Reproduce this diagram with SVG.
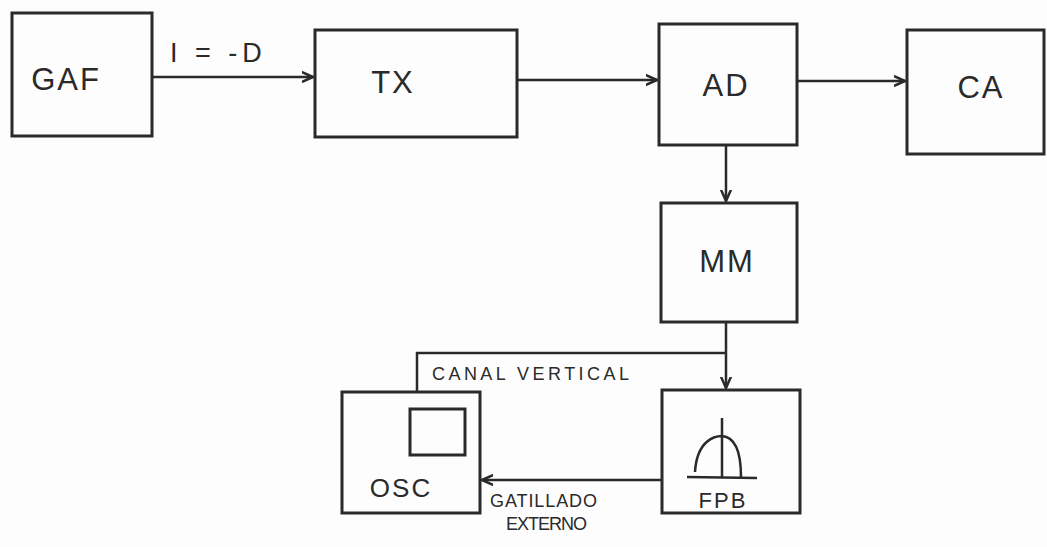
<svg xmlns="http://www.w3.org/2000/svg" width="1047" height="547" viewBox="0 0 1047 547">
<defs>
<style>
.box{fill:none;stroke:#2a2a2a;stroke-width:3}
.ln{fill:none;stroke:#2a2a2a;stroke-width:2.5}
.t{font-family:"Liberation Sans",Arial,sans-serif;fill:#2a2a2a}
.big{font-size:31px;letter-spacing:2px}
.sm{font-size:18px;letter-spacing:3px}
</style>
<marker id="ah" viewBox="0 0 10 10" refX="9" refY="5" markerWidth="5" markerHeight="5" orient="auto">
<path d="M0,1 L9,5 L0,9" fill="none" stroke="#2a2a2a" stroke-width="2"/>
</marker>
</defs>
<rect width="1047" height="547" fill="#fdfdfd"/>
<g id="connectors">
<line class="ln" x1="152" y1="77" x2="313" y2="77" marker-end="url(#ah)"/>
<line class="ln" x1="517" y1="80" x2="657" y2="80" marker-end="url(#ah)"/>
<line class="ln" x1="797" y1="81" x2="905" y2="81" marker-end="url(#ah)"/>
<line class="ln" x1="726" y1="145" x2="726" y2="201" marker-end="url(#ah)"/>
<line class="ln" x1="726" y1="322" x2="726" y2="388" marker-end="url(#ah)"/>
<polyline class="ln" points="726,353 417,353 417,391"/>
<line class="ln" x1="662" y1="480" x2="482" y2="480" marker-end="url(#ah)"/>
<text class="t" x="170" y="62" style="font-size:27px;letter-spacing:5px">I = -D</text>
<text class="t sm" x="432" y="380" textLength="200">CANAL VERTICAL</text>
<text class="t sm" x="490" y="507" textLength="110">GATILLADO</text>
<text class="t sm" x="506" y="530" textLength="84">EXTERNO</text>
</g>
<g id="gaf">
<rect class="box" x="12" y="13" width="140" height="123"/>
<text class="t big" x="66" y="90" text-anchor="middle">GAF</text>
</g>
<g id="tx">
<rect class="box" x="315" y="30" width="202" height="107"/>
<text class="t big" x="393" y="93" text-anchor="middle">TX</text>
</g>
<g id="ad">
<rect class="box" x="659" y="24" width="138" height="121"/>
<text class="t big" x="726" y="96" text-anchor="middle">AD</text>
</g>
<g id="ca">
<rect class="box" x="907" y="30" width="137" height="124"/>
<text class="t big" x="981" y="98" text-anchor="middle">CA</text>
</g>
<g id="mm">
<rect class="box" x="661" y="203" width="136" height="119"/>
<text class="t big" x="727" y="272" text-anchor="middle">MM</text>
</g>
<g id="osc">
<rect class="box" x="342" y="392" width="138" height="121"/>
<rect class="box" x="410" y="409" width="55" height="46"/>
<text class="t" x="401" y="497" text-anchor="middle" style="font-size:26px;letter-spacing:2px">OSC</text>
</g>
<g id="fpb">
<rect class="box" x="662" y="390" width="138" height="123"/>
<line class="ln" x1="687" y1="477" x2="757" y2="478"/>
<line class="ln" x1="722" y1="418" x2="722" y2="477"/>
<path class="ln" d="M695,472 C697,440 715,436 722,436 C735,437 741,450 741,477"/>
<text class="t" x="723" y="508" text-anchor="middle" style="font-size:22px;letter-spacing:2px">FPB</text>
</g>
</svg>
